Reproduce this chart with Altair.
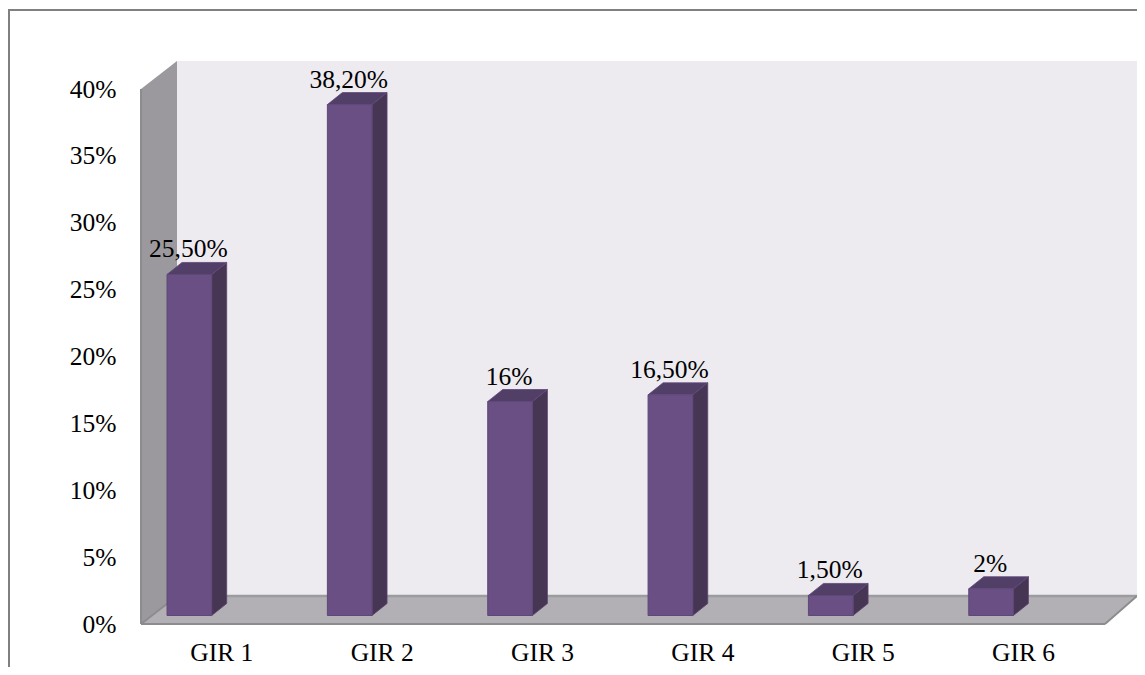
import json
import altair as alt
import pandas as pd

categories = ["GIR 1", "GIR 2", "GIR 3", "GIR 4", "GIR 5", "GIR 6"]
values = [25.5, 38.2, 16, 16.5, 1.5, 2]
value_labels = ["25,50%", "38,20%", "16%", "16,50%", "1,50%", "2%"]
y_ticks = [0, 5, 10, 15, 20, 25, 30, 35, 40]

FONT = "Liberation Serif"
FS = 25.5
PX_X = 160.67      # pixels per category
PX_Y = 13.375      # pixels per percent
PLOT_W = 996
PLOT_H = 563
X_MAX = PLOT_W / PX_X
Y_MAX = PLOT_H / PX_Y
WALL_DX = 36 / PX_X
WALL_DY = 28 / PX_Y
BAR_DX = 15 / PX_X
BAR_DY = 12 / PX_Y
BAR_BASE = 8.5 / PX_Y
BAR_W = 0.278
BAR_START = 0.162
STEP = 0.998
N = len(categories)

xs = alt.Scale(domain=[0, X_MAX], nice=False, zero=False)
ys = alt.Scale(domain=[0, Y_MAX], nice=False, zero=False)


def X(f, **k):
    return alt.X(f, type="quantitative", scale=xs, axis=None, **k)


def Y(f, **k):
    return alt.Y(f, type="quantitative", scale=ys, axis=None, **k)


back_wall = pd.DataFrame([{"x": WALL_DX, "x2": X_MAX, "y": WALL_DY, "y2": Y_MAX}])
wall = alt.Chart(back_wall).mark_rect(color="#edebf0").encode(
    x=X("x"), x2="x2", y=Y("y"), y2="y2")

left_wall = pd.DataFrame([
    {"x": 0, "y": 0, "y2": 40},
    {"x": WALL_DX, "y": WALL_DY, "y2": Y_MAX},
])
side_wall = alt.Chart(left_wall).mark_area(color="#9b999e").encode(
    x=X("x"), y=Y("y"), y2="y2")

floor_df = pd.DataFrame([
    {"y": 0, "x": 0, "x2": N},
    {"y": WALL_DY, "x": WALL_DX, "x2": X_MAX},
])
floor = alt.Chart(floor_df).mark_area(color="#b2b0b4", orient="horizontal").encode(
    y=Y("y"), x=X("x"), x2="x2")

edges_df = pd.DataFrame([
    {"e": "front", "o": 0, "x": 0, "y": 0},
    {"e": "front", "o": 1, "x": N, "y": 0},
    {"e": "right", "o": 0, "x": N, "y": 0},
    {"e": "right", "o": 1, "x": X_MAX, "y": WALL_DY},
    {"e": "left", "o": 0, "x": 0, "y": 0},
    {"e": "left", "o": 1, "x": 0, "y": 40},
    {"e": "corner", "o": 0, "x": 0, "y": 0},
    {"e": "corner", "o": 1, "x": WALL_DX, "y": WALL_DY},
])
edges = alt.Chart(edges_df).mark_line(color="#8c8c8e", strokeWidth=2).encode(
    x=X("x"), y=Y("y"), detail="e:N", order="o:Q")

back_edge_df = pd.DataFrame([
    {"x": WALL_DX, "y": WALL_DY},
    {"x": X_MAX, "y": WALL_DY},
])
back_edge = alt.Chart(back_edge_df).mark_line(color="#9c9c9e", strokeWidth=2.5).encode(
    x=X("x"), y=Y("y"))

bars = pd.DataFrame({"cat": categories, "value": values, "label": value_labels})
bars["a"] = [i * STEP + BAR_START for i in range(N)]
bars["b"] = bars["a"] + BAR_W
bars["base"] = BAR_BASE
bars["top"] = bars["value"] + BAR_BASE
bars["label_x"] = bars["a"] + BAR_W / 2 - 0.006
bars["label_y"] = bars["top"] + BAR_DY

side_rows, top_rows = [], []
for _, r in bars.iterrows():
    side_rows += [
        {"cat": r["cat"], "x": r["b"], "y": r["top"], "y2": r["base"]},
        {"cat": r["cat"], "x": r["b"] + BAR_DX, "y": r["top"] + BAR_DY, "y2": r["base"] + BAR_DY},
    ]
    top_rows += [
        {"cat": r["cat"], "y": r["top"], "x": r["a"], "x2": r["b"]},
        {"cat": r["cat"], "y": r["top"] + BAR_DY, "x": r["a"] + BAR_DX, "x2": r["b"] + BAR_DX},
    ]

bar_side = alt.Chart(pd.DataFrame(side_rows)).mark_area(
    color="#463553", stroke="#5a4470", strokeWidth=0.8).encode(
    x=X("x"), y=Y("y"), y2="y2", detail="cat:N")
bar_top = alt.Chart(pd.DataFrame(top_rows)).mark_area(
    color="#523f67", stroke="#5f4879", strokeWidth=0.8, orient="horizontal").encode(
    y=Y("y"), x=X("x"), x2="x2", detail="cat:N")
bar_front = alt.Chart(bars).mark_rect(
    color="#6a4f85", stroke="#5f4879", strokeWidth=1).encode(
    x=X("a"), x2="b", y=Y("base"), y2="top")

text = alt.Chart(bars).mark_text(
    font=FONT, fontSize=FS, color="#000000", baseline="alphabetic", align="center", dy=-5
).encode(x=X("label_x"), y=Y("label_y"), text="label:N")

# Outer frame, drawn outside the plot area
frame_df = pd.DataFrame([
    {"o": 0, "x": -132 / PX_X, "y": -43 / PX_Y},
    {"o": 1, "x": -132 / PX_X, "y": (PLOT_H + 51) / PX_Y},
    {"o": 2, "x": PLOT_W / PX_X, "y": (PLOT_H + 51) / PX_Y},
])
frame = alt.Chart(frame_df).mark_line(color="#808080", strokeWidth=2, clip=False).encode(
    x=X("x"), y=Y("y"), order="o:Q")

label_expr = json.dumps(categories) + "[floor(datum.value + 0.01)]"
axes = alt.Chart(pd.DataFrame({"x": [0.5], "y": [0]})).mark_point(opacity=0).encode(
    x=alt.X("x:Q", scale=xs, title=None, axis=alt.Axis(
        values=[i * STEP + 0.5 for i in range(N)], labelExpr=label_expr, domain=False, ticks=False,
        grid=False, labelFont=FONT, labelFontSize=FS, labelColor="#000000", labelPadding=16,
        labelOverlap=False, labelFlush=False, labelBound=False)),
    y=alt.Y("y:Q", scale=ys, title=None, axis=alt.Axis(
        values=y_ticks, labelExpr="datum.value + '%'", domain=False, ticks=False,
        grid=False, labelFont=FONT, labelFontSize=FS, labelColor="#000000", labelPadding=25,
        labelOverlap=False, labelBound=False)),
)

chart = alt.layer(
    frame, wall, side_wall, floor, back_edge, edges, bar_side, bar_top, bar_front, text, axes
).resolve_axis(x="independent", y="independent").properties(
    width=PLOT_W, height=PLOT_H,
    padding={"left": 133, "top": 53, "right": 0, "bottom": 43},
    autosize=alt.AutoSizeParams(type="none"),
    background="#ffffff",
).configure_view(stroke=None)

chart.save("out.html", embed_options={"renderer": "svg", "actions": False})
